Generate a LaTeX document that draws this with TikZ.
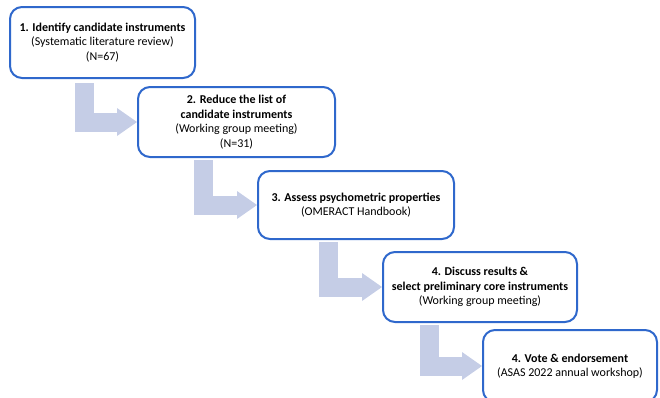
\documentclass[tikz,border=0pt]{standalone}
\usepackage{fontspec}
\setmainfont{Carlito}
\usetikzlibrary{arrows.meta,backgrounds}
\definecolor{edge}{HTML}{2F68CC}
\definecolor{flow}{HTML}{C5CDE6}

\begin{document}
\begin{tikzpicture}[x=1pt,y=-1pt,font=\fontsize{12}{14.5}\selectfont,
  stepbox/.style={draw=edge,line width=2pt,rounded corners=12pt,fill=white,align=center,inner sep=0pt},
  flowarrow/.style={draw=flow,line width=19pt,line join=miter,
    -{Triangle[length=20pt 0 0,width=28pt 0 0,line width=0pt 0 0]}}]
  \useasboundingbox (0,0) rectangle (660,397);
  \clip (0,0) rectangle (660,397);
  % steps
  \node[stepbox,minimum width=185pt,minimum height=71pt] (b1) at (102.5,42.5)
    {\textbf{1. Identify candidate instruments}\\(Systematic literature review)\\(N=67)};
  \node[stepbox,minimum width=197pt,minimum height=70pt] (b2) at (236.5,122)
    {\textbf{2. Reduce the list of}\\\textbf{candidate instruments}\\(Working group meeting)\\(N=31)};
  \node[stepbox,minimum width=196pt,minimum height=68pt] (b3) at (356,205)
    {\textbf{3. Assess psychometric properties}\\(OMERACT Handbook)};
  \node[stepbox,minimum width=194pt,minimum height=70pt] (b4) at (480,287)
    {\textbf{4. Discuss results \&}\\\textbf{select preliminary core instruments}\\(Working group meeting)};
  \node[stepbox,minimum width=174pt,minimum height=72pt] (b5) at (570,366)
    {\textbf{4. Vote \& endorsement}\\(ASAS 2022 annual workshop)};
  % bent arrows
  \begin{scope}[on background layer]
    \foreach \s/\x/\y/\t in {s1/84.5/83/b2,s2/203/160/b3,s3/328/242/b4,s4/429.5/325/b5}{
      \coordinate (\s) at (\x,\y);
      \draw[flowarrow] (\s) |- (\t.west);}
  \end{scope}
\end{tikzpicture}
\end{document}
